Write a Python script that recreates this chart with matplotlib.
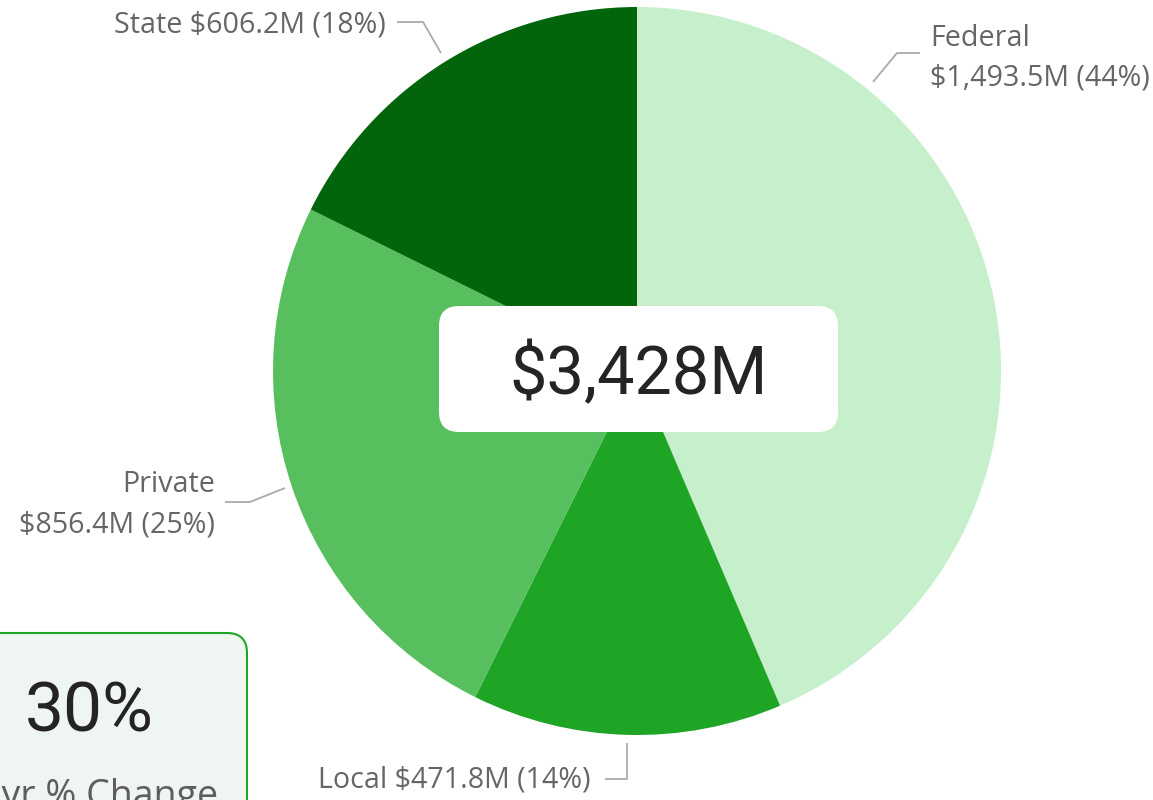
import matplotlib
matplotlib.use("Agg")
import matplotlib.pyplot as plt
from matplotlib.patches import FancyBboxPatch

# Funding by source, $M
sources = ["Federal", "Local", "Private", "State"]
amounts = [1493.5, 471.8, 856.4, 606.2]
colors = ["#c6efcc", "#1fa526", "#57bf5e", "#03650b"]
total_label = "$3,428M"
change_value = "30%"
change_caption = "1-yr % Change"

W, H = 1153, 800
fig = plt.figure(figsize=(W / 100, H / 100), dpi=100)
ax = fig.add_axes([0, 0, 1, 1])

cx, cy, r = 637, H - 371, 364
ax.pie(amounts, colors=colors, startangle=90, counterclock=False,
       center=(cx, cy), radius=r, wedgeprops=dict(linewidth=0))

ax.set_xlim(0, W)
ax.set_ylim(0, H)
ax.set_aspect("equal")
ax.axis("off")

total = sum(amounts)
pct = {s: round(a / total * 100) for s, a in zip(sources, amounts)}
amt = dict(zip(sources, amounts))

lab_font = dict(family=["Open Sans", "DejaVu Sans"], fontsize=20.6, color="#666666")
line_kw = dict(color="#aaaaaa", lw=1.3, solid_capstyle="butt")

def Y(y):
    return H - y

# State
ax.text(386, Y(25), f"State ${amt['State']:,.1f}M ({pct['State']}%)", ha="right", va="center", **lab_font)
ax.plot([397, 423, 441], [Y(22), Y(22), Y(53)], **line_kw)

# Federal
ax.text(930, Y(38), "Federal", ha="left", va="center", **lab_font)
ax.text(930, Y(78), f"${amt['Federal']:,.1f}M ({pct['Federal']}%)", ha="left", va="center", **lab_font)
ax.plot([873, 897, 920], [Y(82), Y(53), Y(53)], **line_kw)

# Private
ax.text(215, Y(485), "Private", ha="right", va="center", **lab_font)
ax.text(215, Y(525), f"${amt['Private']:,.1f}M ({pct['Private']}%)", ha="right", va="center", **lab_font)
ax.plot([225, 250, 285], [Y(502), Y(502), Y(488)], **line_kw)

# Local
ax.text(590, Y(780), f"Local ${amt['Local']:,.1f}M ({pct['Local']}%)", ha="right", va="center", **lab_font)
ax.plot([605, 627, 627], [Y(779), Y(779), Y(743)], **line_kw)

# Total in the middle
box = FancyBboxPatch((439, Y(432)), 838 - 439, 432 - 306,
                     boxstyle="round,pad=0,rounding_size=20",
                     facecolor="white", edgecolor="none", zorder=5)
ax.add_patch(box)
ax.text((439 + 838) / 2, Y(376), total_label, ha="center", va="center",
        family=["Roboto", "DejaVu Sans"], fontsize=48, color="#252423", zorder=6)

# Change card
card = FancyBboxPatch((-60, Y(830)), 247 + 60, 830 - 633,
                      boxstyle="round,pad=0,rounding_size=20",
                      facecolor="#eff5f1", edgecolor="#1fa526", lw=1.5, zorder=5)
ax.add_patch(card)
ax.text(89, Y(712), change_value, ha="center", va="center",
        family=["Roboto", "DejaVu Sans"], fontsize=50, color="#252423", zorder=6)
ax.text(218, Y(797), change_caption, ha="right", va="center",
        family=["Open Sans", "DejaVu Sans"], fontsize=27, color="#605e5c", zorder=6)

fig.savefig("out.png", dpi=100)
